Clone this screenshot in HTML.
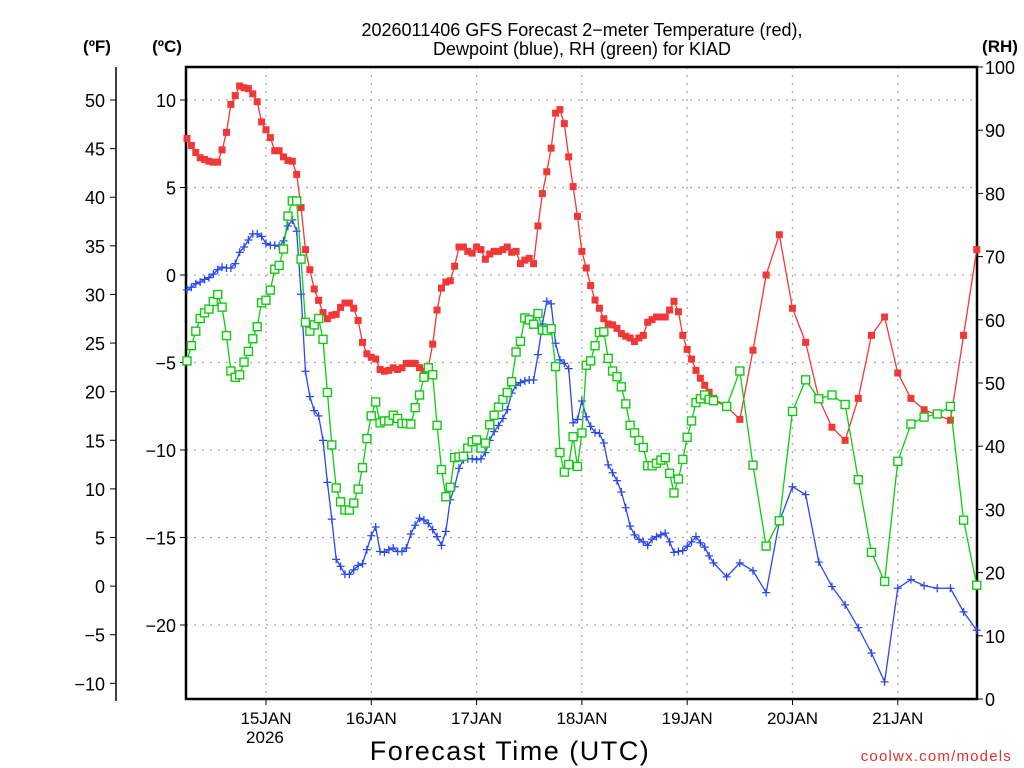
<!DOCTYPE html>
<html><head><meta charset="utf-8">
<style>
html,body{margin:0;padding:0;background:#fff;}
svg{display:block;font-family:"Liberation Sans",sans-serif;}
</style></head>
<body>
<svg id="chart" width="1024" height="768" viewBox="0 0 1024 768" xmlns="http://www.w3.org/2000/svg">
<rect width="1024" height="768" fill="#fff"/>
<g font-size="18" fill="#000" text-anchor="middle">
<text x="582" y="36">2026011406 GFS Forecast 2−meter Temperature (red),</text>
<text x="582" y="55">Dewpoint (blue), RH (green) for KIAD</text>
</g>
<text x="97" y="52" font-size="17" font-weight="bold" text-anchor="middle">(ºF)</text>
<text x="167" y="52" font-size="17" font-weight="bold" text-anchor="middle">(ºC)</text>
<text x="1000" y="52" font-size="17" font-weight="bold" text-anchor="middle">(RH)</text>
<g id="grid"></g>
<g id="axes"></g>
<g id="series"></g>
<text x="510" y="760" font-size="27" text-anchor="middle" letter-spacing="1.5">Forecast Time (UTC)</text>
<text x="1012" y="761" font-size="15" fill="#e03030" text-anchor="end" letter-spacing="1.2">coolwx.com/models</text>
</svg>
<script>
const tempC = [7.8,7.4,7.0,6.7,6.6,6.5,6.45,6.45,7.15,8.15,
9.75,10.25,10.8,10.7,10.65,10.35,9.9,8.75,8.3,7.85,
7.1,7.1,6.75,6.55,6.5,5.75,3.85,1.45,0.3,-0.8,
-1.45,-2.15,-2.5,-2.3,-2.25,-1.85,-1.6,-1.6,-1.9,-2.6,
-3.85,-4.5,-4.7,-4.8,-5.4,-5.5,-5.45,-5.3,-5.4,-5.3,
-5.05,-5.05,-5.05,-5.3,-5.5,-5.3,-3.95,-2.0,-0.75,-0.4,
-0.33,0.5,1.6,1.6,1.35,1.25,1.6,1.45,0.9,1.2,
1.35,1.35,1.45,1.6,1.3,1.35,0.65,0.85,0.95,0.65,
2.8,4.65,5.9,7.25,9.25,9.45,8.65,6.75,5.05,3.35,
1.35,0.4,-0.6,-1.43,-1.9,-2.5,-2.8,-2.85,-3.05,-3.35,
-3.5,-3.6,-3.8,-3.6,-3.45,-2.7,-2.55,-2.4,-2.4,-2.4,
-2.0,-1.5,-2.1,-3.45,-4.25,-4.8,-5.45,-5.9,-6.3,-6.7,
-7.05,
-7.5,-8.25,-4.3,0.0,2.3,-1.9,-3.85,-7.05,-8.7,-9.45,-7.05,-3.45,-2.4,-5.6,-7.05,-7.7,-8.0,-8.3,-3.45,1.45];
const dewC = [-0.85,-0.7,-0.5,-0.4,-0.25,-0.15,0.05,0.3,0.45,0.4,
0.4,0.65,1.3,1.6,2.0,2.35,2.35,2.2,1.8,1.7,
1.7,1.65,1.95,2.8,3.15,2.5,-1.1,-5.5,-6.95,-7.75,
-8.05,-9.45,-11.85,-13.95,-16.25,-16.65,-17.1,-17.1,-16.85,-16.6,
-16.5,-15.7,-14.9,-14.4,-15.8,-15.85,-15.7,-15.6,-15.8,-15.8,
-15.6,-14.8,-14.3,-13.9,-14.0,-14.2,-14.55,-14.95,-15.45,-14.65,
-12.85,-12.1,-11.05,-10.55,-10.5,-10.5,-10.55,-10.5,-10.15,-9.45,
-8.95,-8.6,-8.2,-7.7,-6.75,-6.3,-6.15,-6.05,-6.0,-6.0,
-4.55,-2.8,-1.5,-1.65,-3.9,-4.85,-5.05,-5.35,-8.45,-8.25,
-7.2,-8.1,-8.65,-9.0,-9.05,-9.6,-10.85,-11.3,-11.75,-12.4,
-13.3,-14.35,-14.85,-15.1,-15.25,-15.45,-15.1,-14.95,-14.85,-14.75,
-15.25,-15.85,-15.8,-15.75,-15.5,-15.25,-14.95,-15.3,-15.55,-16.05,
-16.45,
-17.25,-16.45,-16.9,-18.15,-14.1,-12.1,-12.55,-16.4,-17.8,-18.85,-20.15,-21.6,-23.25,-17.9,-17.4,-17.75,-17.9,-17.9,-19.25,-20.3];
const rhPct = [53.5,55.9,58.2,60.2,61.1,61.7,62.9,64.0,62.0,57.5,
51.9,50.9,51.3,53.3,55.0,57.0,58.9,62.7,63.1,64.7,
68.0,68.6,71.2,76.4,78.8,78.8,69.6,59.6,58.2,59.2,
60.2,56.9,48.5,40.2,33.4,31.2,29.9,29.9,31.0,33.2,
36.6,41.2,44.8,47.0,43.7,44.0,44.0,44.9,44.4,43.6,
43.6,43.5,46.1,48.1,50.9,52.4,51.3,43.3,36.3,32.0,
33.5,38.2,38.3,38.4,39.7,40.7,41.0,39.7,40.5,43.4,
44.9,46.2,47.4,48.5,50.2,54.9,56.6,60.3,60.0,59.3,
61.0,58.4,58.3,58.6,52.6,39.0,35.9,37.1,41.5,36.8,
42.1,52.8,53.5,55.9,58.0,58.1,53.9,51.9,51.0,49.4,
46.7,43.3,42.1,40.9,39.8,36.9,36.9,37.3,37.8,38.2,
35.7,32.6,34.8,37.9,41.4,44.0,46.9,47.5,48.1,47.4,
47.2,
46.3,51.9,37.0,24.2,28.2,45.5,50.5,47.5,48.1,46.6,34.7,23.2,18.6,37.6,43.5,44.6,45.1,46.3,28.3,18.0];
const forecastHours = [];
for (let h = 0; h <= 120; h++) forecastHours.push(h);
for (let h = 123; h <= 180; h += 3) forecastHours.push(h);
const dayLabels = ["15JAN","16JAN","17JAN","18JAN","19JAN","20JAN","21JAN"];
const dayHours = [18,42,66,90,114,138,162];
const celsiusTicks = [10,5,0,-5,-10,-15,-20];
const fahrenheitTicks = [50,45,40,35,30,25,20,15,10,5,0,-5,-10];
const rhTicks = [0,10,20,30,40,50,60,70,80,90,100];

const NS = "http://www.w3.org/2000/svg";
const L = 186, R = 977, T = 67, B = 699;
const xH = h => 187 + h * (105.3 / 24);
const yC = c => 275 - c * 17.5;
const yF = f => yC((f - 32) * 5 / 9);
const yRH = r => B - r * (B - T) / 100;
function mk(tag, attrs, parent) {
  const e = document.createElementNS(NS, tag);
  for (const k in attrs) e.setAttribute(k, attrs[k]);
  parent.appendChild(e);
  return e;
}
const grid = document.getElementById('grid');
const axes = document.getElementById('axes');
const series = document.getElementById('series');

celsiusTicks.forEach(c => {
  const g = mk('line', {x1: L, x2: R, y1: yC(c), y2: yC(c), stroke: '#aaa', 'stroke-width': 1.3, 'stroke-dasharray': '2,6'}, grid);
  
  
  const t = mk('line', {x1: L - 6, x2: L, y1: yC(c), y2: yC(c), stroke: '#000', 'stroke-width': 1}, axes);
  
  
  const lb = mk('text', {x: L - 10, y: yC(c) + 7, 'font-size': 18, 'text-anchor': 'end', fill: '#000'}, axes);
  lb.textContent = c < 0 ? '−' + Math.abs(c) : String(c);
  
  
});
dayHours.forEach((h, i) => {
  const g = mk('line', {x1: xH(h), x2: xH(h), y1: T, y2: B, stroke: '#aaa', 'stroke-width': 1.3, 'stroke-dasharray': '2,6'}, grid);
  
  
  const t = mk('line', {x1: xH(h), x2: xH(h), y1: B, y2: B + 6, stroke: '#000', 'stroke-width': 1}, axes);
  
  
  const lb = mk('text', {x: xH(h), y: B + 25, 'font-size': 17, 'text-anchor': 'middle', fill: '#000'}, axes);
  lb.textContent = dayLabels[i];
  
  
});
const yr = mk('text', {x: xH(dayHours[0]) - 1, y: B + 44, 'font-size': 17, 'text-anchor': 'middle', fill: '#000'}, axes);
yr.textContent = '2026';



const fl = mk('line', {x1: 116, x2: 116, y1: T, y2: B + 2, stroke: '#000', 'stroke-width': 1.5}, axes);


fahrenheitTicks.forEach(f => {
  const t = mk('line', {x1: 110, x2: 116, y1: yF(f), y2: yF(f), stroke: '#000', 'stroke-width': 1}, axes);
  
  
  const lb = mk('text', {x: 105, y: yF(f) + 7, 'font-size': 18, 'text-anchor': 'end', fill: '#000'}, axes);
  lb.textContent = f < 0 ? '−' + Math.abs(f) : String(f);
  
  
});
rhTicks.forEach(r => {
  const t = mk('line', {x1: R, x2: R + 6, y1: yRH(r), y2: yRH(r), stroke: '#000', 'stroke-width': 1}, axes);
  
  
  const lb = mk('text', {x: R + 8, y: yRH(r) + 7, 'font-size': 18, 'text-anchor': 'start', fill: '#000'}, axes);
  lb.textContent = String(r);
  
  
});
const frame = mk('path', {d: `M${L},${T} H${R} V${B} H${L} Z`, fill: 'none', stroke: '#000', 'stroke-width': 2.5}, axes);



function drawSeries(vals, yf, color, kind, name) {
  const g = mk('g', {}, series);
  
  
  const pts = vals.map((v, i) => xH(forecastHours[i]).toFixed(2) + ',' + yf(v).toFixed(2)).join(' ');
  const pl = mk('polyline', {points: pts, fill: 'none', stroke: color, 'stroke-width': 1.3}, g);
  
  
  vals.forEach((v, i) => {
    const x = xH(forecastHours[i]), y = yf(v);
    let m;
    if (kind === 'filled') {
      m = mk('rect', {x: x - 3.5, y: y - 3.5, width: 7, height: 7, fill: color}, g);
    } else if (kind === 'hollow') {
      m = mk('rect', {x: x - 4, y: y - 4, width: 8, height: 8, fill: '#fff', stroke: color, 'stroke-width': 1.4}, g);
    } else {
      m = mk('path', {d: `M${x - 4},${y} H${x + 4} M${x},${y - 4} V${y + 4}`, stroke: color, 'stroke-width': 1.3}, g);
    }
    
    
  });
}
drawSeries(tempC, yC, '#f03838', 'filled', 'temperature');
drawSeries(dewC, yC, '#2a48f0', 'plus', 'dewpoint');
drawSeries(rhPct, yRH, '#10cc10', 'hollow', 'relative-humidity');
</script>
</body></html>
